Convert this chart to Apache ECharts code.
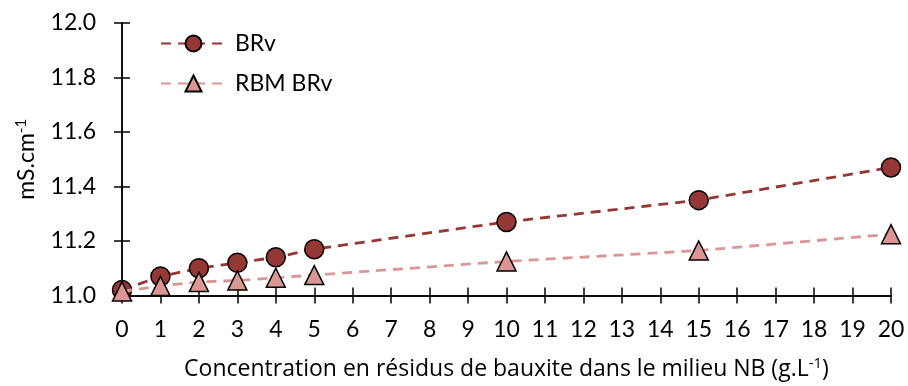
<!DOCTYPE html>
<html>
<head>
<meta charset="utf-8">
<script src="https://cdn.jsdelivr.net/npm/echarts@6/dist/echarts.min.js"></script>
<style>
  html, body { margin: 0; padding: 0; background: #fff; }
  #chart { width: 908px; height: 386px; }
</style>
</head>
<body>
<div id="chart"></div>
<script>
// Residue concentration (g/L)
const concentrations = [0, 1, 2, 3, 4, 5, 10, 15, 20];
// Conductivity (mS/cm)
const brv = [11.02, 11.07, 11.10, 11.12, 11.14, 11.17, 11.27, 11.35, 11.47];
const rbmBrv = [11.015, 11.035, 11.05, 11.055, 11.065, 11.075, 11.125, 11.165, 11.225];
const seriesNames = ['BRv', 'RBM BRv'];

const FONT = 'Lato, "Open Sans", sans-serif';
const TITLE_FONT = '"Open Sans", Lato, sans-serif';
const DARK = '#953735';
const LIGHT = '#D99694';

const pairs = (ys) => concentrations.map((x, i) => [x, ys[i]]);

const axisCommon = {
  axisLine: { show: true, lineStyle: { color: '#000', width: 1.5 } },
  splitLine: { show: false }
};

const chart = echarts.init(document.getElementById('chart'));
chart.setOption({
  animation: false,
  grid: { left: 122, right: 17, top: 23, bottom: 89 },
  legend: {
    left: 155, top: 27, orient: 'vertical',
    itemWidth: 65, itemHeight: 20, itemGap: 17,
    textStyle: { fontFamily: FONT, fontSize: 23, color: '#000', padding: [0, 0, 0, 4] },
    data: seriesNames
  },
  xAxis: [
    Object.assign({
      type: 'value', min: 0, max: 20, interval: 1,
      axisTick: { show: true, length: 8, lineStyle: { color: '#000', width: 1.5 } },
      axisLabel: { fontFamily: FONT, fontSize: 23, color: '#000', margin: 23 },
      name: '{t|Concentration en résidus de bauxite dans le milieu NB (g.L}{s|-1}{t|)}',
      nameLocation: 'middle', nameGap: 61,
      nameTextStyle: {
        rich: {
          t: { fontFamily: TITLE_FONT, fontSize: 23, color: '#000' },
          s: { fontFamily: TITLE_FONT, fontSize: 15, color: '#000', padding: [0, 0, 11, 0] }
        }
      }
    }, axisCommon),
    Object.assign({
      type: 'value', min: 0, max: 20, interval: 1, position: 'bottom',
      axisTick: { show: true, inside: true, length: 8, lineStyle: { color: '#000', width: 1.5 } },
      axisLabel: { show: false }
    }, axisCommon)
  ],
  yAxis: [
    Object.assign({
      type: 'value', min: 11.0, max: 12.0, interval: 0.2,
      axisTick: { show: true, length: 8, lineStyle: { color: '#000', width: 1.5 } },
      axisLabel: { fontFamily: FONT, fontSize: 23, color: '#000', margin: 26,
        formatter: (v) => v.toFixed(1) },
      name: '{t|mS.cm}{s|-1}',
      nameLocation: 'middle', nameGap: 82,
      nameTextStyle: {
        rich: {
          t: { fontFamily: FONT, fontSize: 23, color: '#000' },
          s: { fontFamily: FONT, fontSize: 15, color: '#000', padding: [0, 0, 11, 0] }
        }
      }
    }, axisCommon),
    Object.assign({
      type: 'value', min: 11.0, max: 12.0, interval: 0.2, position: 'left',
      axisTick: { show: true, inside: true, length: 8, lineStyle: { color: '#000', width: 1.5 } },
      axisLabel: { show: false }
    }, axisCommon)
  ],
  series: [
    {
      name: seriesNames[0], type: 'line', data: pairs(brv),
      symbol: 'circle', symbolSize: 19,
      lineStyle: { color: DARK, width: 2.8, type: [10, 7] },
      itemStyle: { color: DARK, borderColor: '#000', borderWidth: 1.5 },
      z: 3
    },
    {
      name: seriesNames[1], type: 'line', data: pairs(rbmBrv),
      symbol: 'triangle', symbolSize: 19,
      lineStyle: { color: LIGHT, width: 2.8, type: [10, 7] },
      itemStyle: { color: LIGHT, borderColor: '#000', borderWidth: 1.5 },
      z: 4
    }
  ]
});
</script>
</body>
</html>
